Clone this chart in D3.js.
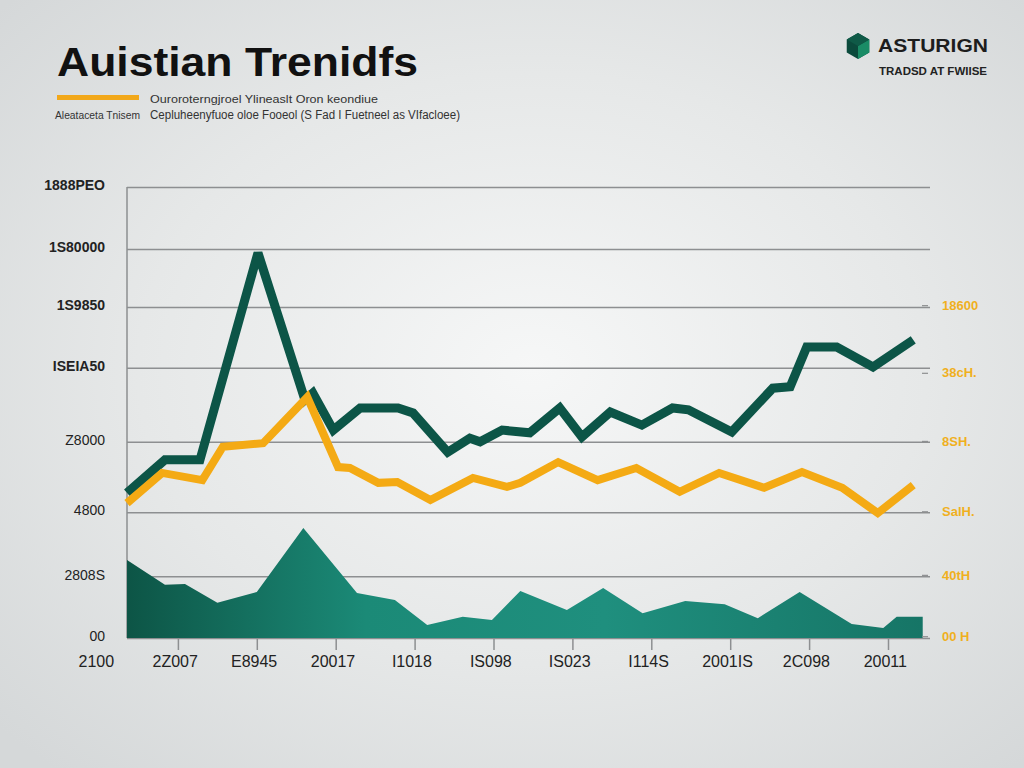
<!DOCTYPE html>
<html><head><meta charset="utf-8">
<script src="https://cdn.jsdelivr.net/npm/d3@7"></script>
<style>
html,body{margin:0;padding:0;background:#dfe1e2;}
svg{display:block;font-family:"Liberation Sans",Arial,sans-serif;}
</style></head>
<body><svg id="c" width="1024" height="768"></svg>
<script>
// ---- data ----
const xTickLabels = ["2100","2Z007","E8945","20017","I1018","IS098","IS023","I114S","2001IS","2C098","20011"];
const yTickValues = [0, 13.7, 27.9, 43.5, 59.9, 73.4, 86.25, 100];
const yTickLabels = ["00","2808S","4800","Z8000","ISEIA50","1S9850","1S80000","1888PEO"];
const rightTickValues = [0.4, 14.0, 28.1, 43.7, 58.8, 73.8];
const rightTickLabels = ["00 H","40tH","SalH.","8SH.","38cH.","18600"];

const darkX = [0.355,0.836,1.28,2.015,2.61,2.71,2.97,3.31,3.79,3.98,4.42,4.70,4.83,5.11,5.46,5.84,6.12,6.48,6.88,7.27,7.47,8.02,8.54,8.76,8.97,9.35,9.81,10.32];
const darkY = [32.2,39.5,39.5,85.4,52.8,54.3,46.1,51.0,51.0,49.9,41.2,44.3,43.5,46.1,45.5,51.0,44.6,50.1,47.2,51.0,50.6,45.7,55.4,55.7,64.5,64.5,60.1,66.1];

const orangeX = [0.355,0.80,1.31,1.57,2.08,2.64,3.03,3.18,3.54,3.78,4.20,4.74,5.17,5.34,5.82,6.32,6.81,7.36,7.86,8.43,8.91,9.42,9.87,10.32];
const orangeY = [29.9,36.6,35.0,42.4,43.2,53.4,37.9,37.7,34.4,34.6,30.6,35.5,33.5,34.4,39.0,35.0,37.7,32.4,36.6,33.3,36.8,33.3,27.7,33.9];

const areaX = [0.355,0.836,1.09,1.50,2.00,2.59,3.27,3.75,4.16,4.61,4.98,5.34,5.93,6.39,6.89,7.43,7.93,8.35,8.88,9.54,9.94,10.11,10.44];
const areaY = [17.3,11.8,12.0,7.8,10.2,24.4,10.0,8.4,2.9,4.7,4.0,10.4,6.2,11.1,5.5,8.2,7.5,4.4,10.2,3.1,2.2,4.7,4.7];

// ---- drawing ----
const svg = d3.select("#c");
const defs = svg.append("defs");
const bg = defs.append("radialGradient").attr("id","bg").attr("cx","0.52").attr("cy","0.48").attr("r","0.7");
bg.append("stop").attr("offset","0").attr("stop-color","#f6f7f7");
bg.append("stop").attr("offset","0.55").attr("stop-color","#e6e8e8");
bg.append("stop").attr("offset","1").attr("stop-color","#d5d8d9");
svg.append("rect").attr("width",1024).attr("height",768).attr("fill","url(#bg)");

const plotL = 127, plotR = 930, plotT = 187, plotB = 638;
const x = d3.scaleLinear().domain([0,10]).range([99,888]);
const y = d3.scaleLinear().domain([0,100]).range([plotB, plotT]);

// gridlines + left axis
const yAxis = d3.axisLeft(y).tickValues(yTickValues)
  .tickFormat((d,i)=>yTickLabels[i]).tickSize(-(plotR-plotL)).tickPadding(22);
const gy = svg.append("g").attr("transform",`translate(${plotL},0)`).call(yAxis);
gy.select(".domain").remove();
gy.selectAll(".tick line").attr("stroke","#8d8f91").attr("stroke-width",1.5);
gy.selectAll(".tick text").attr("fill","#222").attr("font-size",14).attr("font-weight",(d,i)=> i>=4 ? "bold":"normal")
  .attr("dy","0.2em");

// vertical axis line
svg.append("line").attr("x1",plotL).attr("x2",plotL).attr("y1",plotT).attr("y2",plotB)
  .attr("stroke","#8d8f91").attr("stroke-width",1.5);

// area gradient
const ag = defs.append("linearGradient").attr("id","ag").attr("x1","0").attr("x2","1").attr("y1","0").attr("y2","0");
ag.append("stop").attr("offset","0").attr("stop-color","#0d5546");
ag.append("stop").attr("offset","0.3").attr("stop-color","#1b8a77");
ag.append("stop").attr("offset","0.6").attr("stop-color","#1f8f7e");
ag.append("stop").attr("offset","1").attr("stop-color","#167566");

const areaData = areaX.map((v,i)=>({x:v,y:areaY[i]}));
const area = d3.area().x(d=>x(d.x)).y0(y(0)).y1(d=>y(d.y));
svg.append("path").datum(areaData).attr("d",area).attr("fill","url(#ag)");

// lines
const line = d3.line().x(d=>x(d.x)).y(d=>y(d.y));
const darkData = darkX.map((v,i)=>({x:v,y:darkY[i]}));
const orangeData = orangeX.map((v,i)=>({x:v,y:orangeY[i]}));
svg.append("path").datum(darkData).attr("d",line).attr("fill","none")
  .attr("stroke","#0c5547").attr("stroke-width",9).attr("stroke-linejoin","miter").attr("stroke-miterlimit",3);
svg.append("path").datum(orangeData).attr("d",line).attr("fill","none")
  .attr("stroke","#f4aa14").attr("stroke-width",8).attr("stroke-linejoin","miter").attr("stroke-miterlimit",3);

// bottom axis
const xAxis = d3.axisBottom(x).tickValues(d3.range(0,11)).tickFormat((d,i)=>xTickLabels[i]).tickSize(12).tickPadding(6);
const gx = svg.append("g").attr("transform",`translate(0,${plotB})`).call(xAxis);
gx.select(".domain").remove();
gx.selectAll(".tick line").attr("stroke","#8d8f91").attr("stroke-width",1.5).attr("opacity",(d)=> d===0?0:1);
gx.selectAll(".tick text").attr("fill","#222").attr("font-size",16).attr("dx","-0.2em");

// right axis
const yR = d3.axisRight(y).tickValues(rightTickValues).tickFormat((d,i)=>rightTickLabels[i]).tickSize(6).tickPadding(6);
const gr = svg.append("g").attr("transform",`translate(${plotR},0)`).call(yR);
gr.select(".domain").remove();
gr.selectAll(".tick line").attr("stroke","#8d8f91").attr("stroke-width",1.2).attr("transform","translate(-8,0)");
gr.selectAll(".tick text").attr("fill","#f0b01e").attr("font-size",13).attr("font-weight","bold");

// title block
svg.append("text").attr("x",57).attr("y",76).attr("font-size",40).attr("font-weight","bold").attr("fill","#111")
  .attr("textLength",361).attr("lengthAdjust","spacingAndGlyphs").text("Auistian Trenidfs");
svg.append("rect").attr("x",57).attr("y",95).attr("width",82).attr("height",5).attr("fill","#f2a81a");
svg.append("text").attr("x",150).attr("y",103).attr("font-size",11).attr("fill","#333")
  .attr("textLength",228).attr("lengthAdjust","spacingAndGlyphs").text("Ouroroterngjroel Ylineaslt Oron keondiue");
svg.append("text").attr("x",55).attr("y",119).attr("font-size",10).attr("fill","#333")
  .attr("textLength",85).attr("lengthAdjust","spacingAndGlyphs").text("Aleataceta Tnisem");
svg.append("text").attr("x",150).attr("y",119).attr("font-size",12).attr("fill","#333")
  .attr("textLength",310).attr("lengthAdjust","spacingAndGlyphs").text("Cepluheenyfuoe oloe Fooeol (S Fad I Fuetneel as VIfacloee)");

// logo
const lg = svg.append("g").attr("transform","translate(858,46)");
const hex = d3.range(6).map(i=>{const a=Math.PI/3*i+Math.PI/6;return [13*Math.cos(a),13*Math.sin(a)];});
lg.append("path").attr("d","M"+hex.join("L")+"Z").attr("fill","#0b4a3c");
lg.append("path").attr("d",`M0,0L${hex[5]}L${hex[0]}L${hex[1]}Z`).attr("fill","#1a8c66");
lg.append("path").attr("d",`M0,0L${hex[3]}L${hex[4]}L${hex[5]}Z`).attr("fill","#0f5a47");
svg.append("text").attr("x",878).attr("y",52).attr("font-size",18).attr("font-weight","bold").attr("fill","#1d1d1d")
  .attr("textLength",110).attr("lengthAdjust","spacingAndGlyphs").text("ASTURIGN");
svg.append("text").attr("x",879).attr("y",75).attr("font-size",10).attr("font-weight","bold").attr("fill","#222")
  .attr("textLength",108).attr("lengthAdjust","spacingAndGlyphs").text("TRADSD AT FWIISE");
</script></body></html>
